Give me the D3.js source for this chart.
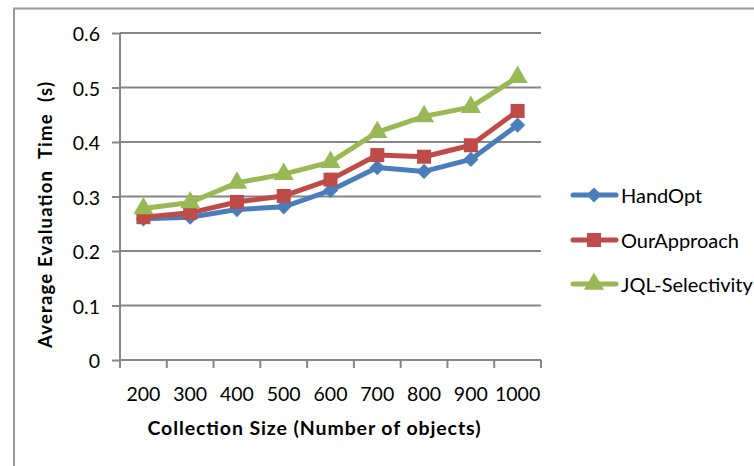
<!DOCTYPE html>
<html>
<head>
<meta charset="utf-8">
<script src="https://cdn.jsdelivr.net/npm/d3@7"></script>
<style>
  body { margin: 0; background: #fff; }
  svg { display: block; font-family: Lato, "Open Sans", sans-serif; }
</style>
</head>
<body>
<svg id="chart" width="754" height="466"></svg>
<script>
const categories = ["200", "300", "400", "500", "600", "700", "800", "900", "1000"];
const handOpt = [0.259, 0.262, 0.276, 0.281, 0.311, 0.353, 0.346, 0.368, 0.431];
const ourApproach = [0.262, 0.270, 0.290, 0.301, 0.331, 0.376, 0.373, 0.394, 0.457];
const jqlSelectivity = [0.278, 0.289, 0.325, 0.341, 0.363, 0.418, 0.447, 0.464, 0.519];
const yTicks = [0, 0.1, 0.2, 0.3, 0.4, 0.5, 0.6];
const seriesNames = ["HandOpt", "OurApproach", "JQL-Selectivity"];

const series = [
  { name: seriesNames[0], values: handOpt, color: "#4a7ebb", marker: "diamond" },
  { name: seriesNames[1], values: ourApproach, color: "#be4b48", marker: "square" },
  { name: seriesNames[2], values: jqlSelectivity, color: "#98b954", marker: "triangle" }
];

const svg = d3.select("#chart");
const pLeft = 120, pRight = 541, pTop = 33, pBottom = 360;

// outer border
svg.append("rect").attr("x", 14).attr("y", 8.5).attr("width", 760).attr("height", 480)
  .attr("fill", "none").attr("stroke", "#999").attr("stroke-width", 2);

const x = d3.scaleBand().domain(categories).range([pLeft, pRight]);
const y = d3.scaleLinear().domain([0, 0.6]).range([pBottom, pTop]);

// gridlines
svg.append("g").selectAll("line").data(yTicks.slice(1)).join("line")
  .attr("x1", pLeft).attr("x2", pRight)
  .attr("y1", d => y(d)).attr("y2", d => y(d))
  .attr("stroke", "#868686").attr("stroke-width", 2);

// y axis
const yAxis = svg.append("g").attr("transform", `translate(${pLeft},0)`)
  .call(d3.axisLeft(y).tickValues(yTicks).tickSize(8).tickPadding(12)
    .tickFormat(d => d === 0 ? "0" : d3.format(".1f")(d)));
yAxis.select(".domain").attr("stroke", "#868686").attr("stroke-width", 2).attr("d", `M0,${pTop}V${pBottom}`);
yAxis.selectAll(".tick line").attr("stroke", "#868686").attr("stroke-width", 2);
yAxis.selectAll(".tick text").attr("font-size", 19.5).attr("fill", "#000").attr("font-family", "Lato, sans-serif")
  .attr("dy", "0.4em");

// x axis
const xAxis = svg.append("g").attr("transform", `translate(0,${pBottom})`)
  .call(d3.axisBottom(x).tickSize(0).tickPadding(25));
xAxis.select(".domain").attr("stroke", "#868686").attr("stroke-width", 2).attr("d", `M${pLeft},0H${pRight}`);
xAxis.selectAll(".tick text").attr("font-size", 19.5).attr("fill", "#000").attr("font-family", "Lato, sans-serif")
  .attr("dy", "0.8em");
// category boundary ticks
const bounds = categories.map(c => x(c)).concat([pRight]);
xAxis.append("g").selectAll("line").data(bounds).join("line")
  .attr("x1", d => d).attr("x2", d => d).attr("y1", 0).attr("y2", 8)
  .attr("stroke", "#868686").attr("stroke-width", 2);

// axis titles
svg.append("text").attr("x", 314).attr("y", 435).attr("text-anchor", "middle")
  .attr("font-size", 19.5).attr("font-weight", "bold").attr("fill", "#000")
  .attr("textLength", 333).attr("lengthAdjust", "spacing")
  .text("Collection Size (Number of objects)");
svg.append("text").attr("transform", "translate(52,215) rotate(-90)").attr("text-anchor", "middle")
  .attr("font-size", 18.5).attr("font-weight", "bold").attr("fill", "#000")
  .attr("textLength", 266).attr("lengthAdjust", "spacing")
  .attr("xml:space", "preserve").style("white-space", "pre")
  .text("Average Evaluation  Time  (s)");

function markerPath(type) {
  if (type === "diamond") return d3.symbol(d3.symbolSquare, 115)();
  if (type === "square") return d3.symbol(d3.symbolSquare, 196)();
  return d3.symbol(d3.symbolTriangle, 175)();
}
function markerRot(type) { return type === "diamond" ? " rotate(45)" : ""; }

const line = d3.line().x((d, i) => x(categories[i]) + x.bandwidth() / 2).y(d => y(d));

series.forEach(s => {
  const g = svg.append("g");
  g.append("path").datum(s.values).attr("d", line)
    .attr("fill", "none").attr("stroke", s.color).attr("stroke-width", 5).attr("stroke-linejoin", "round");
  g.selectAll("path.m").data(s.values).join("path").attr("class", "m")
    .attr("d", markerPath(s.marker))
    .attr("transform", (d, i) => `translate(${x(categories[i]) + x.bandwidth() / 2},${y(d)})${markerRot(s.marker)}`)
    .attr("fill", s.color);
});

// legend
const legendY = [195, 240, 284];
series.forEach((s, i) => {
  const g = svg.append("g").attr("transform", `translate(0,${legendY[i]})`);
  g.append("line").attr("x1", 573).attr("x2", 616).attr("y1", 0).attr("y2", 0)
    .attr("stroke", s.color).attr("stroke-width", 5).attr("stroke-linecap", "round");
  g.append("path").attr("d", markerPath(s.marker)).attr("transform", `translate(594,0)${markerRot(s.marker)}`).attr("fill", s.color);
  g.append("text").attr("x", 621).attr("y", 7.5).attr("font-size", 20).attr("fill", "#000").text(s.name);
});
</script>
</body>
</html>
